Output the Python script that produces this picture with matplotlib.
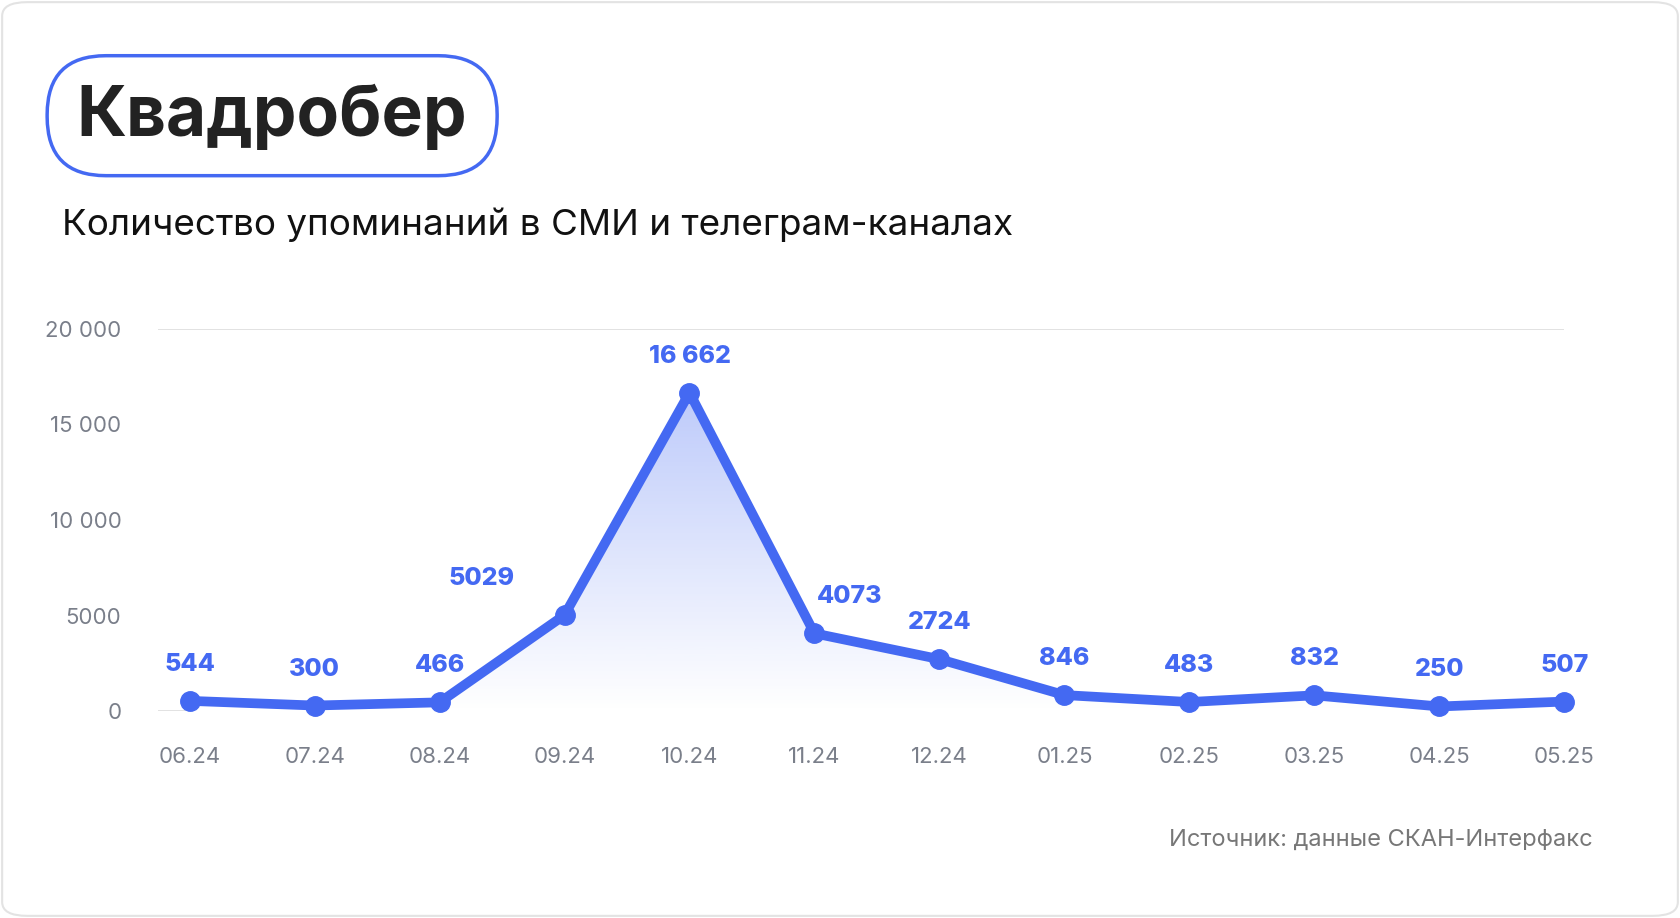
import matplotlib
matplotlib.use("Agg")
import matplotlib.pyplot as plt
import numpy as np
from matplotlib.patches import FancyBboxPatch

plt.rcParams["font.family"] = "Inter"

months = ["06.24", "07.24", "08.24", "09.24", "10.24", "11.24",
          "12.24", "01.25", "02.25", "03.25", "04.25", "05.25"]
mentions = [544, 300, 466, 5029, 16662, 4073, 2724, 846, 483, 832, 250, 507]
label_texts = ["544", "300", "466", "5029", "16 662", "4073",
               "2724", "846", "483", "832", "250", "507"]
yticks = [0, 5000, 10000, 15000, 20000]
ytick_labels = ["0", "5000", "10 000", "15 000", "20 000"]

BLUE = "#4469F2"
W, H = 1568, 857

fig = plt.figure(figsize=(16.8, 9.18), dpi=100)

# card border
fig.patches.append(FancyBboxPatch((2 / W, 2 / H), 1 - 4 / W, 1 - 4 / H,
                                  boxstyle="round,pad=0,rounding_size=0.015",
                                  transform=fig.transFigure, fc="white",
                                  ec="#E3E3E3", lw=1.5, zorder=-10))
# title pill
fig.patches.append(FancyBboxPatch((44 / W, 1 - 164 / H), 420 / W, 112 / H,
                                  boxstyle="round,pad=0,rounding_size=0.035",
                                  transform=fig.transFigure, fc="white",
                                  ec=BLUE, lw=2.5, mutation_aspect=W / H))
fig.text(254 / W, 1 - 109 / H, "Квадробер", fontsize=50, fontweight="bold",
         color="#222222", ha="center", va="center")
fig.text(58 / W, 1 - 210 / H, "Количество упоминаний в СМИ и телеграм-каналах",
         fontsize=26.5, color="#111111", ha="left", va="center")
fig.text(1486 / W, 1 - 784 / H, "Источник: данные СКАН-Интерфакс",
         fontsize=17, color="#777777", ha="right", va="center")

ax = fig.add_axes([147 / W, 1 - 664 / H, (1460 - 147) / W, (664 - 307) / H])
ax.patch.set_alpha(0)
x = np.arange(len(months))
ax.set_xlim(-0.257, 11.0)
ax.set_ylim(0, 20000)

# gradient fill under line
cmap = matplotlib.colors.LinearSegmentedColormap.from_list("g", ["white", BLUE])
im = ax.imshow(np.linspace(0, 0.35, 256).reshape(-1, 1),
               extent=[x[0], x[-1], 0, max(mentions)], aspect="auto",
               cmap=cmap, vmin=0, vmax=1, origin="lower", zorder=1)
poly = ax.fill_between(x, mentions, 0, color="none")
im.set_clip_path(poly.get_paths()[0], transform=ax.transData)

ax.plot(x, mentions, color=BLUE, lw=7, marker="o", markersize=14,
        solid_joinstyle="round", zorder=3, clip_on=False)
for i, (xi, v, t) in enumerate(zip(x, mentions, label_texts)):
    dx = {3: -60, 5: 25}.get(i, 0)
    ax.annotate(t, (xi, v), xytext=(dx, 18), textcoords="offset points",
                ha="center", va="bottom", fontsize=18, fontweight="heavy",
                color=BLUE)

for yv in [0, 20000]:
    ax.axhline(yv, color="#DDDDDD", lw=1.2, zorder=0)
for s in ax.spines.values():
    s.set_visible(False)
ax.set_yticks(yticks)
ax.set_yticklabels(ytick_labels)
ax.set_xticks(x)
ax.set_xticklabels(months)
ax.tick_params(length=0, labelsize=16, labelcolor="#7A7F8A")
ax.tick_params(axis="y", pad=26)
ax.tick_params(axis="x", pad=26)

fig.savefig("out.png", dpi=100)
